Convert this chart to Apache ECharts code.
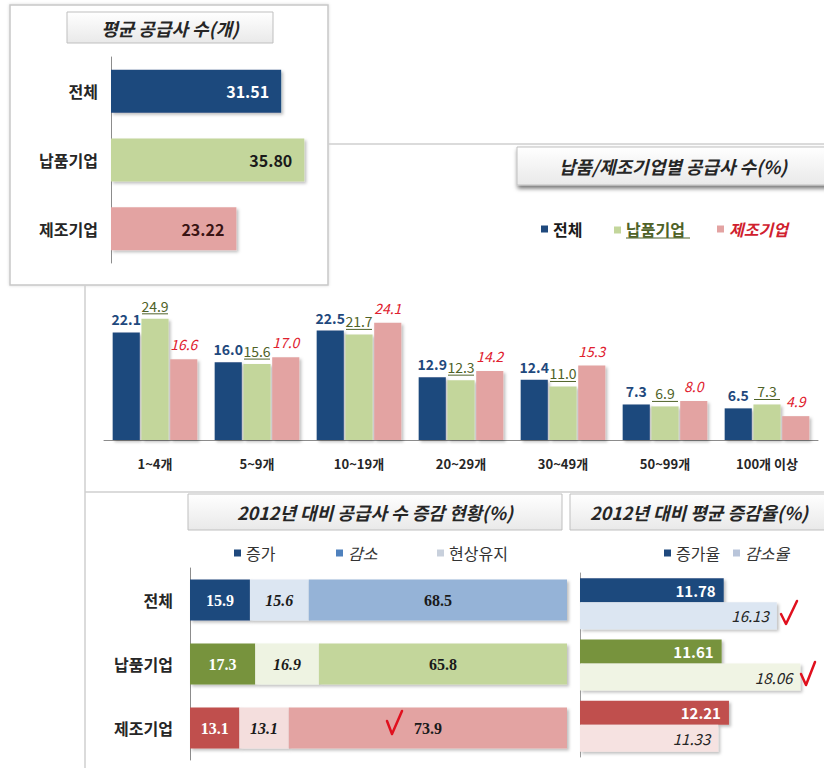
<!DOCTYPE html>
<html>
<head>
<meta charset="utf-8">
<script src="https://cdn.jsdelivr.net/npm/echarts@6/dist/echarts.min.js"></script>
<style>
  html, body { margin: 0; padding: 0; background: #fff; }
  #main { width: 824px; height: 768px; }
</style>
</head>
<body>
<div id="main"></div>
<script>
    // 평균 공급사 수(개)
    const avgCats = ['전체', '납품기업', '제조기업'];
    const avgValues = [31.51, 35.80, 23.22];

    // 납품/제조기업별 공급사 수(%)
    const sizeCats = ['1~4개', '5~9개', '10~19개', '20~29개', '30~49개', '50~99개', '100개 이상'];
    const sizeAll = [22.1, 16.0, 22.5, 12.9, 12.4, 7.3, 6.5];
    const sizeDelivery = [24.9, 15.6, 21.7, 12.3, 11.0, 6.9, 7.3];
    const sizeMaker = [16.6, 17.0, 24.1, 14.2, 15.3, 8.0, 4.9];

    // 2012년 대비 공급사 수 증감 현황(%)
    const changeCats = ['전체', '납품기업', '제조기업'];
    const changeUp = [15.9, 17.3, 13.1];
    const changeDown = [15.6, 16.9, 13.1];
    const changeSame = [68.5, 65.8, 73.9];

    // 2012년 대비 평균 증감율(%)
    const rateUp = [11.78, 11.61, 12.21];
    const rateDown = [16.13, 18.06, 11.33];

    const FONT = '"Noto Sans CJK KR", "Noto Sans", sans-serif';
    const NAVY = '#1F497D';
    const OLIVE = '#77933C';
    const RED = '#C0504D';
    const shadow = {shadowBlur: 3, shadowOffsetX: 2, shadowOffsetY: 2, shadowColor: 'rgba(0,0,0,0.25)'};

    const avgColors = [NAVY, '#C3D69B', '#E3A3A2'];
    const avgLabelColors = ['#fff', '#1a1a1a', '#3a1414'];
    const upColors = [NAVY, OLIVE, RED];
    const downColors = ['#DCE6F2', '#EEF3E2', '#F4DEDD'];
    const sameColors = ['#95B3D7', '#C3D69B', '#E3A3A2'];
    const rateDownColors = ['#DCE6F2', '#F0F4E4', '#F6E2E1'];

    function titleBox(x, y, w, h, text, withShadow) {
        return {
            type: 'group',
            children: [
                {
                    type: 'rect',
                    shape: {x: x, y: y, width: w, height: h},
                    style: Object.assign({
                        fill: {type: 'linear', x: 0, y: 0, x2: 0, y2: 1,
                            colorStops: [{offset: 0, color: '#FFFFFF'}, {offset: 1, color: '#E9E9E9'}]},
                        stroke: '#BFBFBF',
                        lineWidth: 1
                    }, withShadow ? {shadowBlur: 4, shadowOffsetY: 3, shadowOffsetX: 1, shadowColor: 'rgba(0,0,0,0.55)'} : {})
                },
                {
                    type: 'text',
                    style: {
                        text: text, x: x + w / 2, y: y + h / 2,
                        align: 'center', verticalAlign: 'middle',
                        fontFamily: FONT, fontSize: 18, fontWeight: 'bold', fontStyle: 'italic',
                        fill: '#262626'
                    }
                }
            ]
        };
    }

    function check(points) {
        return {
            type: 'polyline', z: 10,
            shape: {points: points},
            style: {stroke: '#E0101E', lineWidth: 2.5, fill: null, lineCap: 'round', lineJoin: 'round'}
        };
    }

    function legendItem(name, left, top, text) {
        return {
            data: [{name: name, textStyle: text}],
            left: left, top: top, padding: 0,
            icon: 'rect', itemWidth: 7, itemHeight: 7,
            textStyle: {fontFamily: FONT, fontSize: 16, color: '#333'},
            selectedMode: false
        };
    }

    const chart = echarts.init(document.getElementById('main'), null, {renderer: 'svg'});

    chart.setOption({
        animation: false,
        textStyle: {fontFamily: FONT},
        graphic: [
            {type: 'rect', z: -10, shape: {x: 10, y: 5, width: 318, height: 280},
                style: {fill: '#fff', stroke: '#C8C8C8', lineWidth: 1.5, shadowBlur: 3, shadowColor: 'rgba(0,0,0,0.15)'}},
            {type: 'polyline', z: -10, shape: {points: [[328, 144], [824, 144]]}, style: {stroke: '#CFCFCF', lineWidth: 1.5}},
            {type: 'polyline', z: -10, shape: {points: [[85, 285], [85, 768]]}, style: {stroke: '#CFCFCF', lineWidth: 1.5}},
            {type: 'polyline', z: -10, shape: {points: [[85, 492], [824, 492]]}, style: {stroke: '#CFCFCF', lineWidth: 1.5}},
            titleBox(67, 12, 206, 31, '평균 공급사 수(개)', false),
            titleBox(517, 147, 312, 38, '납품/제조기업별 공급사 수(%)', true),
            titleBox(188, 494, 374, 36, '2012년 대비 공급사 수 증감 현황(%)', false),
            titleBox(570, 494, 258, 36, '2012년 대비 평균 증감율(%)', false),
            check([[387, 721], [392, 734], [402, 711]]),
            check([[781, 614], [786, 624], [797, 601]]),
            check([[801, 674], [806, 685], [815, 662]])
        ],
        legend: [
            legendItem('전체', 541, 221, {fontWeight: 'bold', color: '#1a1a1a'}),
            Object.assign(legendItem('납품기업', 614, 221, {fontWeight: 'bold', color: '#4F6228'}), {
                formatter: n => n + '\n{u| }',
                textStyle: {fontFamily: FONT, fontSize: 16, rich: {u: {width: 64, height: 1, lineHeight: 2, backgroundColor: '#4F6228'}}}
            }),
            legendItem('제조기업', 717, 221, {fontWeight: 'bold', fontStyle: 'italic', color: '#D0202E'}),
            legendItem('증가', 234, 545, {color: '#333'}),
            legendItem('감소', 336, 545, {fontStyle: 'italic', color: '#333'}),
            legendItem('현상유지', 437, 545, {color: '#333'}),
            legendItem('증가율', 664, 545, {color: '#333'}),
            legendItem('감소율', 733, 545, {fontStyle: 'italic', color: '#333'})
        ],
        grid: [
            {left: 111, top: 57, width: 216, height: 206},
            {left: 104, right: 6, top: 294, height: 146},
            {left: 190, top: 568, width: 377, height: 192},
            {left: 580, top: 573, width: 249, height: 184}
        ],
        xAxis: [
            {gridIndex: 0, type: 'value', min: 0, max: 40, show: false},
            {
                gridIndex: 1, type: 'category', data: sizeCats,
                axisLine: {lineStyle: {color: '#8C8C8C'}},
                axisTick: {length: 6, lineStyle: {color: '#8C8C8C'}},
                axisLabel: {fontFamily: FONT, fontWeight: 'bold', fontSize: 13, color: '#262626', margin: 17}
            },
            {gridIndex: 2, type: 'value', min: 0, max: 100, show: false},
            {gridIndex: 3, type: 'value', min: 0, max: 20, show: false}
        ],
        yAxis: [
            {
                gridIndex: 0, type: 'category', data: avgCats, inverse: true,
                axisLine: {lineStyle: {color: '#8C8C8C'}},
                axisTick: {length: 5, lineStyle: {color: '#8C8C8C'}},
                axisLabel: {fontFamily: FONT, fontWeight: 'bold', fontSize: 16, color: '#262626', margin: 13}
            },
            {gridIndex: 1, type: 'value', min: 0, max: 30, show: false},
            {
                gridIndex: 2, type: 'category', data: changeCats, inverse: true,
                axisLine: {lineStyle: {color: '#8C8C8C'}},
                axisTick: {length: 5, lineStyle: {color: '#8C8C8C'}},
                axisLabel: {fontFamily: FONT, fontWeight: 'bold', fontSize: 16, color: '#262626', margin: 17}
            },
            {
                gridIndex: 3, type: 'category', data: changeCats, inverse: true,
                axisLine: {lineStyle: {color: '#9C9C9C'}},
                axisTick: {show: false},
                axisLabel: {show: false}
            }
        ],
        series: [
            {
                name: '평균 공급사 수', type: 'bar', xAxisIndex: 0, yAxisIndex: 0, barWidth: 43,
                data: avgValues.map((v, i) => ({
                    value: v,
                    itemStyle: Object.assign({color: avgColors[i]}, shadow),
                    label: {color: avgLabelColors[i]}
                })),
                label: {
                    show: true, position: 'insideRight', distance: 12,
                    fontFamily: FONT, fontWeight: 'bold', fontSize: 16,
                    formatter: p => p.value.toFixed(2)
                }
            },
            {
                name: '전체', type: 'bar', xAxisIndex: 1, yAxisIndex: 1,
                barCategoryGap: '17%', barGap: '6%', data: sizeAll,
                itemStyle: Object.assign({color: NAVY}, shadow),
                label: {show: true, position: 'top', distance: 6, fontFamily: FONT, fontWeight: 'bold', fontSize: 14,
                    color: NAVY, formatter: p => p.value.toFixed(1)}
            },
            {
                name: '납품기업', type: 'bar', xAxisIndex: 1, yAxisIndex: 1,
                barCategoryGap: '17%', barGap: '6%', data: sizeDelivery,
                itemStyle: Object.assign({color: '#C3D69B'}, shadow),
                label: {show: true, position: 'top', distance: 4, fontFamily: FONT, fontSize: 14,
                    color: '#4F6228', formatter: p => '{v|' + p.value.toFixed(1) + '}\n{u| }',
                    rich: {
                        v: {fontFamily: FONT, fontSize: 14, color: '#4F6228'},
                        u: {width: 26, height: 1, lineHeight: 2, backgroundColor: '#4F6228'}
                    }}
            },
            {
                name: '제조기업', type: 'bar', xAxisIndex: 1, yAxisIndex: 1,
                barCategoryGap: '17%', barGap: '6%', data: sizeMaker,
                itemStyle: Object.assign({color: '#E3A3A2'}, shadow),
                label: {show: true, position: 'top', distance: 8, fontFamily: FONT, fontStyle: 'italic', fontSize: 14,
                    color: '#E0202E', formatter: p => p.value.toFixed(1)}
            },
            {
                name: '증가', type: 'bar', stack: 'chg', xAxisIndex: 2, yAxisIndex: 2, barWidth: 41,
                itemStyle: {color: NAVY},
                data: changeUp.map((v, i) => ({value: v, itemStyle: Object.assign({color: upColors[i]}, shadow)})),
                label: {show: true, position: 'inside', fontFamily: '"Liberation Serif", serif', fontWeight: 'bold', fontSize: 16,
                    color: '#fff', formatter: p => p.value.toFixed(1)}
            },
            {
                name: '감소', type: 'bar', stack: 'chg', xAxisIndex: 2, yAxisIndex: 2, barWidth: 41,
                itemStyle: {color: '#4F81BD'},
                data: changeDown.map((v, i) => ({value: v, itemStyle: Object.assign({color: downColors[i]}, shadow)})),
                label: {show: true, position: 'inside', fontFamily: '"Liberation Serif", serif', fontWeight: 'bold', fontStyle: 'italic', fontSize: 16,
                    color: '#1a1a1a', formatter: p => p.value.toFixed(1)}
            },
            {
                name: '현상유지', type: 'bar', stack: 'chg', xAxisIndex: 2, yAxisIndex: 2, barWidth: 41,
                itemStyle: {color: '#C8D0DC'},
                data: changeSame.map((v, i) => ({value: v, itemStyle: Object.assign({color: sameColors[i]}, shadow)})),
                label: {show: true, position: 'inside', fontFamily: '"Liberation Serif", serif', fontWeight: 'bold', fontSize: 16,
                    color: '#1a1a1a', formatter: p => p.value.toFixed(1)}
            },
            {
                name: '증가율', type: 'bar', xAxisIndex: 3, yAxisIndex: 3, barWidth: 24, barGap: 0,
                itemStyle: {color: NAVY},
                data: rateUp.map((v, i) => ({value: v, itemStyle: Object.assign({color: upColors[i]}, shadow)})),
                label: {show: true, position: 'insideRight', distance: 8, fontFamily: FONT, fontWeight: 'bold', fontSize: 15,
                    color: '#fff', formatter: p => p.value.toFixed(2)}
            },
            {
                name: '감소율', type: 'bar', xAxisIndex: 3, yAxisIndex: 3, barWidth: 27, barGap: 0,
                itemStyle: {color: '#B9C5DA'},
                data: rateDown.map((v, i) => ({value: v, itemStyle: Object.assign({color: rateDownColors[i]}, shadow)})),
                label: {show: true, position: 'insideRight', distance: 8, fontFamily: FONT, fontStyle: 'italic', fontSize: 15,
                    color: '#262626', formatter: p => p.value.toFixed(2)}
            }
        ]
    });
</script>
</body>
</html>
